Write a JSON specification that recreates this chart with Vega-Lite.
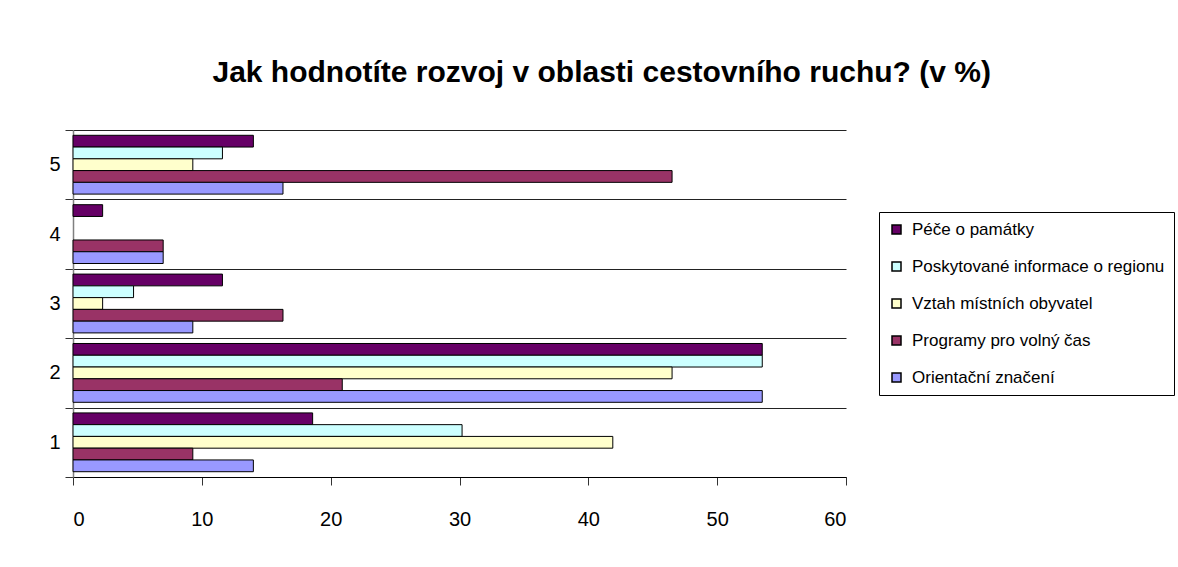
{
  "$schema": "https://vega.github.io/schema/vega-lite/v6.json",
  "width": 773,
  "height": 347,
  "autosize": {"type": "none"},
  "padding": {"left": 73, "top": 130, "right": 332, "bottom": 90},
  "background": "white",
  "title": {
    "text": "Jak hodnotíte rozvoj v oblasti cestovního ruchu? (v %)",
    "font": "Liberation Sans",
    "fontSize": 30,
    "fontWeight": "bold",
    "color": "black",
    "anchor": "middle",
    "frame": "bounds",
    "offset": 32,
    "dx": -10
  },
  "data": {
    "values": [
      {"kat": "5", "serie": "Péče o památky", "hodnota": 14.0},
      {"kat": "5", "serie": "Poskytované informace o regionu", "hodnota": 11.6},
      {"kat": "5", "serie": "Vztah místních obyvatel", "hodnota": 9.3},
      {"kat": "5", "serie": "Programy pro volný čas", "hodnota": 46.5},
      {"kat": "5", "serie": "Orientační značení", "hodnota": 16.3},
      {"kat": "4", "serie": "Péče o památky", "hodnota": 2.3},
      {"kat": "4", "serie": "Programy pro volný čas", "hodnota": 7.0},
      {"kat": "4", "serie": "Orientační značení", "hodnota": 7.0},
      {"kat": "3", "serie": "Péče o památky", "hodnota": 11.6},
      {"kat": "3", "serie": "Poskytované informace o regionu", "hodnota": 4.7},
      {"kat": "3", "serie": "Vztah místních obyvatel", "hodnota": 2.3},
      {"kat": "3", "serie": "Programy pro volný čas", "hodnota": 16.3},
      {"kat": "3", "serie": "Orientační značení", "hodnota": 9.3},
      {"kat": "2", "serie": "Péče o památky", "hodnota": 53.5},
      {"kat": "2", "serie": "Poskytované informace o regionu", "hodnota": 53.5},
      {"kat": "2", "serie": "Vztah místních obyvatel", "hodnota": 46.5},
      {"kat": "2", "serie": "Programy pro volný čas", "hodnota": 20.9},
      {"kat": "2", "serie": "Orientační značení", "hodnota": 53.5},
      {"kat": "1", "serie": "Péče o památky", "hodnota": 18.6},
      {"kat": "1", "serie": "Poskytované informace o regionu", "hodnota": 30.2},
      {"kat": "1", "serie": "Vztah místních obyvatel", "hodnota": 41.9},
      {"kat": "1", "serie": "Programy pro volný čas", "hodnota": 9.3},
      {"kat": "1", "serie": "Orientační značení", "hodnota": 14.0}
    ]
  },
  "mark": {"type": "bar", "stroke": "black", "strokeWidth": 1},
  "encoding": {
    "y": {
      "field": "kat",
      "type": "ordinal",
      "sort": "descending",
      "scale": {"paddingInner": 0, "paddingOuter": 0},
      "axis": {
        "title": null,
        "tickBand": "extent",
        "grid": true,
        "gridColor": "#222222",
        "domainColor": "#808080",
        "domainWidth": 1.5,
        "tickColor": "#333333",
        "tickSize": 8,
        "labelFontSize": 20,
        "labelColor": "black",
        "labelPadding": 5,
        "labelFont": "Liberation Sans"
      }
    },
    "x": {
      "field": "hodnota",
      "type": "quantitative",
      "scale": {"domain": [0, 60], "nice": false},
      "axis": {
        "title": null,
        "values": [0, 10, 20, 30, 40, 50, 60],
        "grid": false,
        "domainColor": "black",
        "tickColor": "#333333",
        "tickSize": 8,
        "labelFontSize": 20,
        "labelColor": "black",
        "labelPadding": 24,
        "labelFont": "Liberation Sans"
      }
    },
    "yOffset": {
      "field": "serie",
      "type": "nominal",
      "scale": {
        "domain": ["Péče o památky", "Poskytované informace o regionu", "Vztah místních obyvatel", "Programy pro volný čas", "Orientační značení"],
        "paddingInner": 0,
        "paddingOuter": 0.45
      }
    },
    "color": {
      "field": "serie",
      "type": "nominal",
      "scale": {
        "domain": ["Péče o památky", "Poskytované informace o regionu", "Vztah místních obyvatel", "Programy pro volný čas", "Orientační značení"],
        "range": ["#660066", "#CCFFFF", "#FFFFCC", "#993366", "#9999FF"]
      },
      "legend": {
        "orient": "none",
        "legendX": 806,
        "legendY": 82,
        "title": null,
        "strokeColor": "black",
        "fillColor": "white",
        "padding": 9,
        "symbolType": "square",
        "symbolSize": 81,
        "symbolStrokeColor": "black",
        "symbolOpacity": 1,
        "labelFontSize": 17,
        "labelFont": "Liberation Sans",
        "labelColor": "black",
        "labelOffset": 7,
        "labelLimit": 400,
        "rowPadding": 19
      }
    }
  },
  "config": {"view": {"stroke": null}, "font": "Liberation Sans"}
}
